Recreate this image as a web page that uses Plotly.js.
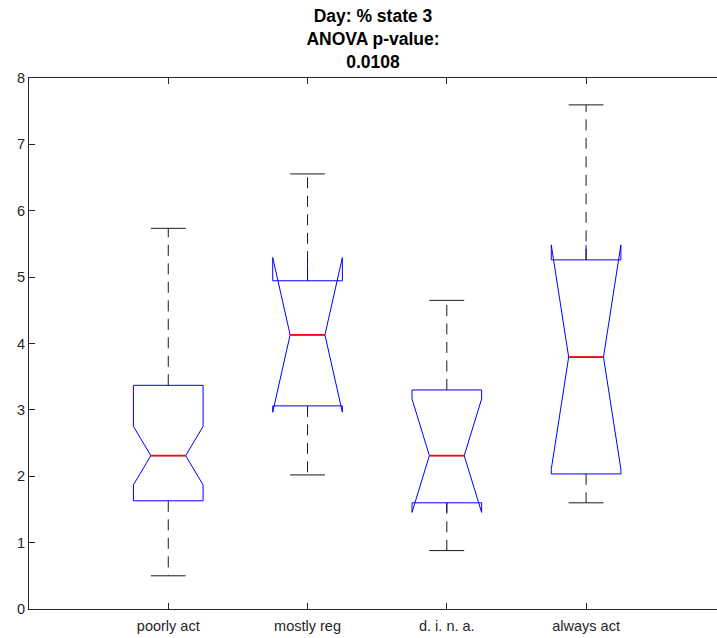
<!DOCTYPE html>
<html>
<head>
<meta charset="utf-8">
<script src="https://cdn.plot.ly/plotly-3.0.1.min.js"></script>
<style>
html, body { margin: 0; padding: 0; background: #fff; overflow: hidden; }
#chart { width: 717px; height: 638px; }
</style>
</head>
<body>
<div id="chart"></div>
<script>
// ---- data ----
const categories = ['poorly act', 'mostly reg', 'd. i. n. a.', 'always act'];
const positions  = [1, 2, 3, 4];
const q1Values     = [1.63, 3.06, 1.60, 2.035];
const medianValues = [2.31, 4.13, 2.31, 3.795];
const q3Values     = [3.37, 4.945, 3.30, 5.26];
const lowerWhisker = [0.50, 2.02, 0.88, 1.60];
const upperWhisker = [5.735, 6.555, 4.65, 7.595];
const notchSpans   = [0.44, 1.165, 0.855, 1.69];
const yTickValues  = [0, 1, 2, 3, 4, 5, 6, 7, 8];

// ---- style constants ----
const BOX_WIDTH = 0.5;
const CAP_HALF = 0.125;
const MEDIAN_HALF = 0.125;
const AXIS_COLOR = '#262626';

// whiskers (dashed), caps (solid), medians (red) built from the arrays above
const wx = [], wy = [], cx = [], cy = [], mx = [], my = [];
positions.forEach((p, i) => {
  wx.push(p, p, null, p, p, null);
  wy.push(q3Values[i], upperWhisker[i], null, q1Values[i], lowerWhisker[i], null);
  cx.push(p - CAP_HALF, p + CAP_HALF, null, p - CAP_HALF, p + CAP_HALF, null);
  cy.push(upperWhisker[i], upperWhisker[i], null, lowerWhisker[i], lowerWhisker[i], null);
  mx.push(p - MEDIAN_HALF, p + MEDIAN_HALF, null);
  my.push(medianValues[i], medianValues[i], null);
});

const traces = [
  {
    type: 'box',
    x: positions,
    q1: q1Values,
    median: medianValues,
    q3: q3Values,
    lowerfence: q1Values,
    upperfence: q3Values,
    notched: true,
    notchspan: notchSpans,
    notchwidth: 0.25,
    width: BOX_WIDTH,
    whiskerwidth: 0,
    boxpoints: false,
    line: { color: '#0000ff', width: 1 },
    fillcolor: 'rgba(0,0,0,0)',
    hoverinfo: 'skip'
  },
  {
    type: 'scatter', mode: 'lines', x: wx, y: wy,
    line: { color: '#1a1a1a', width: 1, dash: '11px,7.5px' },
    hoverinfo: 'skip'
  },
  {
    type: 'scatter', mode: 'lines', x: cx, y: cy,
    line: { color: '#1a1a1a', width: 1 },
    hoverinfo: 'skip'
  },
  {
    type: 'scatter', mode: 'lines', x: mx, y: my,
    line: { color: '#ff0000', width: 1.6 },
    hoverinfo: 'skip'
  }
];

const layout = {
  width: 717,
  height: 638,
  margin: { l: 29, r: 0, t: 78, b: 29 },
  paper_bgcolor: '#ffffff',
  plot_bgcolor: '#ffffff',
  showlegend: false,
  hovermode: false,
  font: { family: 'Liberation Sans, Arial, sans-serif', color: AXIS_COLOR },
  title: {
    text: '<b>Day: % state 3<br>ANOVA p-value:<br>0.0108</b>',
    font: { family: 'Liberation Sans, Arial, sans-serif', size: 17.5, color: '#000000' },
    xref: 'paper', x: 0.5, xanchor: 'center',
    yref: 'container', y: 1 - 22 / 638, yanchor: 'top'
  },
  xaxis: {
    range: [0, 4.94],
    tickmode: 'array',
    tickvals: positions,
    ticktext: categories,
    ticks: 'inside',
    ticklen: 6,
    tickcolor: AXIS_COLOR,
    showline: true,
    linecolor: AXIS_COLOR,
    linewidth: 1,
    mirror: 'ticks',
    showgrid: false,
    zeroline: false,
    ticklabelstandoff: 4,
    tickfont: { size: 14.5, color: AXIS_COLOR }
  },
  yaxis: {
    range: [0, 8],
    tickmode: 'array',
    tickvals: yTickValues,
    ticks: 'inside',
    ticklen: 6,
    tickcolor: AXIS_COLOR,
    showline: true,
    linecolor: AXIS_COLOR,
    linewidth: 1,
    mirror: false,
    showgrid: false,
    zeroline: false,
    tickfont: { size: 14.5, color: AXIS_COLOR }
  }
};

Plotly.newPlot('chart', traces, layout, { displayModeBar: false, staticPlot: true });
</script>
</body>
</html>
